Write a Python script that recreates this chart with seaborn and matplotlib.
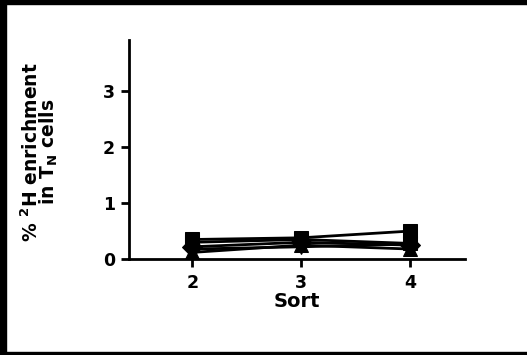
import matplotlib
matplotlib.use("Agg")
import matplotlib.pyplot as plt
from matplotlib.patches import Rectangle
import seaborn as sns
import pandas as pd

# ---- data ----
sorts = [2, 3, 4]
subjects = ["S1", "S2", "S3", "S4", "S5"]
s1 = [0.35, 0.38, 0.50]
s2 = [0.30, 0.35, 0.28]
s3 = [0.12, 0.25, 0.18]
s4 = [0.22, 0.30, 0.25]
s5 = [0.18, 0.22, 0.27]
series = [s1, s2, s3, s4, s5]
xtick_labels = ["2", "3", "4"]
ytick_vals = [0, 1, 2, 3]

rows = []
for name, vals in zip(subjects, series):
    for x, v in zip(sorts, vals):
        rows.append({"subject": name, "Sort": x, "value": v})
df = pd.DataFrame(rows)

sns.set_theme(style="ticks")
plt.rcParams["font.family"] = ["DejaVu Sans"]
plt.rcParams["font.weight"] = "bold"
plt.rcParams["text.color"] = "black"
plt.rcParams["axes.labelcolor"] = "black"
plt.rcParams["mathtext.fontset"] = "custom"
plt.rcParams["mathtext.rm"] = "DejaVu Sans:bold"
plt.rcParams["mathtext.bf"] = "DejaVu Sans:bold"
plt.rcParams["mathtext.it"] = "DejaVu Sans:bold"

fig = plt.figure(figsize=(5.27, 3.55), dpi=100)
fig.patch.set_facecolor("white")
ax = fig.add_axes([0.245, 0.270, 0.637, 0.617])

sns.lineplot(data=df, x="Sort", y="value", hue="subject", style="subject",
             palette=["black"] * len(subjects),
             markers=["s", "s", "^", "D", "v"], dashes=False,
             markersize=10.5, linewidth=2, markeredgecolor="black",
             legend=False, ax=ax)

ax.set_xlim(1.42, 4.5)
ax.set_ylim(0, 3.9)
ax.set_xticks(sorts)
ax.set_xticklabels(xtick_labels)
ax.set_yticks(ytick_vals)
ax.tick_params(axis="both", direction="out", length=6, width=2,
               labelsize=12.5, colors="black")
ax.tick_params(axis="x", pad=5)
ax.tick_params(axis="y", pad=4)
for lbl in ax.get_xticklabels() + ax.get_yticklabels():
    lbl.set_fontweight("bold")
for side in ["top", "right"]:
    ax.spines[side].set_visible(False)
for side in ["left", "bottom"]:
    ax.spines[side].set_linewidth(2)
    ax.spines[side].set_color("black")

ax.set_xlabel("Sort", fontsize=14, fontweight="bold", labelpad=0,
              color="black")
ax.set_ylabel("% $^{2}$H enrichment\nin T$_{N}$ cells", fontsize=13.5,
              fontweight="bold", linespacing=0.76, color="black")
ax.yaxis.set_label_coords(-0.205, 0.49)

# black frame of the picture
W, H = 527, 355
fig.patches.append(Rectangle((0, 1 - 4 / H), 1, 4 / H, transform=fig.transFigure,
                             color="black", zorder=10))
fig.patches.append(Rectangle((0, 0), 6 / W, 1, transform=fig.transFigure,
                             color="black", zorder=10))
fig.patches.append(Rectangle((0, 0), 1, 3 / H, transform=fig.transFigure,
                             color="black", zorder=10))

fig.savefig("out.png", dpi=100)
